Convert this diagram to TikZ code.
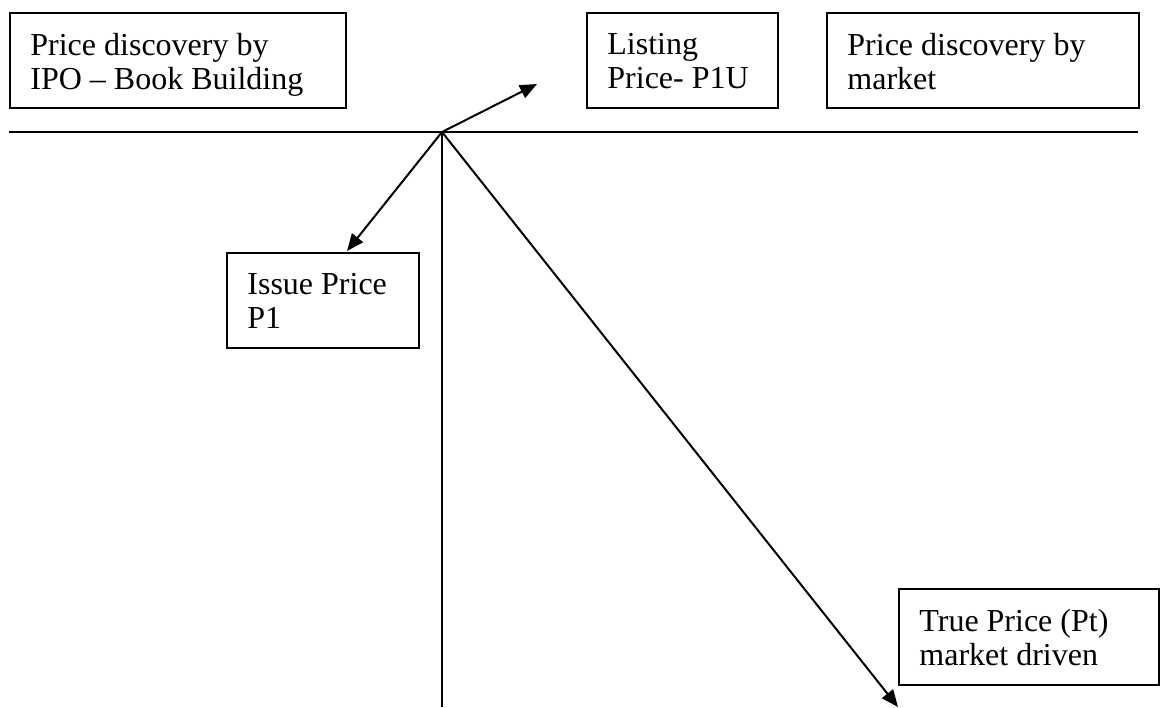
\documentclass[tikz,border=0pt]{standalone}
\usepackage{fontspec}
\setmainfont{Liberation Serif}
\usetikzlibrary{arrows.meta,positioning}
\tikzset{
  box/.style={draw, line width=1.2pt, inner sep=0pt, anchor=north west},
  txt/.style={anchor=north west, inner sep=0pt, align=left, font=\fontsize{16pt}{17pt}\selectfont},
  ln/.style={line width=1pt},
  arr/.style={line width=1pt, -{Triangle[length=8.5pt,width=7pt]}}
}
\begin{document}
\begin{tikzpicture}[x=0.5pt,y=-0.5pt]
\useasboundingbox (0,0) rectangle (1160,707);
% boxes (width/height in pt = px/2)
\node[box, minimum width=168pt, minimum height=47.5pt] (b1) at (9,12) {};
\node[box, minimum width=95.5pt, minimum height=47.5pt] (b2) at (586,12) {};
\node[box, minimum width=156pt, minimum height=47.5pt] (b3) at (826,12) {};
\node[box, minimum width=96pt, minimum height=47.5pt] (b4) at (226,252) {};
\node[box, minimum width=130pt, minimum height=48pt] (b5) at (898,588) {};
% texts
\node[txt] (t1) at (30,33) {Price discovery by\\IPO -- Book Building};
\node[txt] (t2) at (607,33) {Listing\\Price- P1U};
\node[txt] (t3) at (847,33) {Price discovery by\\market};
\node[txt] (t4) at (247,273) {Issue Price\\P1};
\node[txt] (t5) at (919,609) {True Price (Pt)\\market driven};
% axes
\coordinate (J) at (442,132);
\coordinate (hl) at (9,132);
\coordinate (hr) at (1138,132);
\coordinate (vb) at (442,707);
\draw[ln] (hl) -- (hr);
\draw[ln] (J) -- (vb);
% arrows
\coordinate (a1) at (537,84);
\coordinate (a2) at (347,251);
\coordinate (a3) at (898,707);
\draw[arr] (J) -- (a1);
\draw[arr] (J) -- (a2);
\draw[arr] (J) -- (a3);
\end{tikzpicture}
\end{document}
